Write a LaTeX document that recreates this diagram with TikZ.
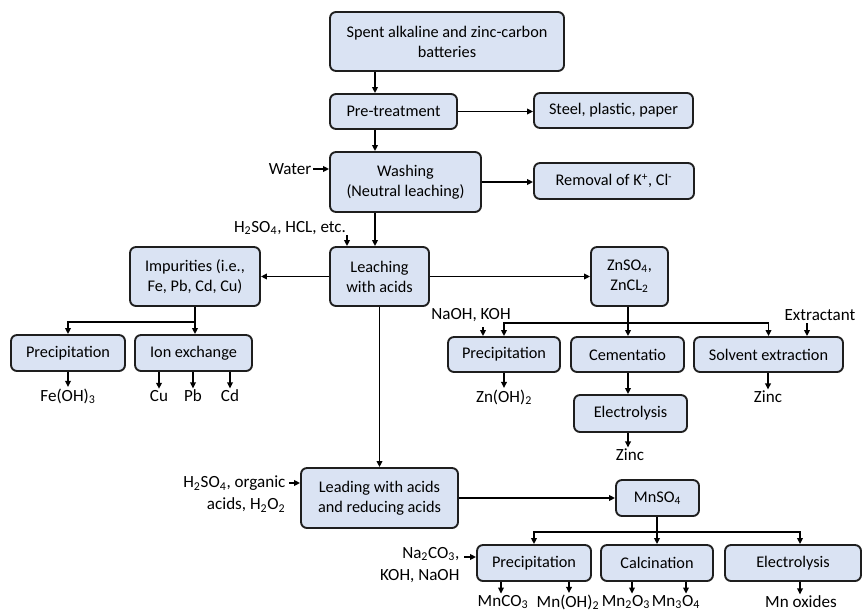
\documentclass[tikz,border=0pt]{standalone}
\usepackage{fontspec}
\setmainfont{Carlito}
\usetikzlibrary{arrows.meta,calc}
\definecolor{boxfill}{RGB}{218,227,243}
\definecolor{boxline}{RGB}{30,30,30}
\newcommand{\bx}[6]{\node[box, minimum width={(#4-#2)*0.75pt}, minimum height={(#5-#3)*0.75pt}] (#1) at ({(#2+#4)/2},{(#3+#5)/2}) {#6};}
\newcommand{\sub}[1]{\textsubscript{#1}}
\begin{document}
\begin{tikzpicture}[x=0.75pt,y=-0.75pt,
  box/.style={draw=boxline, fill=boxfill, line width=1.4pt, rounded corners=4.5pt, inner sep=0pt, align=center, font=\fontsize{12.2pt}{15pt}\selectfont},
  lbl/.style={inner sep=1pt, font=\fontsize{12.8pt}{16.5pt}\selectfont},
  arr/.style={line width=1.2pt, -{Triangle[length=4.5pt,width=4.2pt]}},
  ln/.style={line width=1.2pt}]
\useasboundingbox (0,0) rectangle (863,613);
\coordinate (vx) at (375,0);
% boxes
\bx{spent}{330}{12}{564}{71}{Spent alkaline and zinc-carbon\\batteries}
\bx{pre}{330}{94}{457}{129}{Pre-treatment}
\bx{steel}{534}{93}{693}{128}{Steel, plastic, paper}
\bx{wash}{330}{152}{481}{212}{Washing\\(Neutral leaching)}
\bx{removal}{534}{163}{694}{199}{Removal of K\textsuperscript{+}, Cl\textsuperscript{-}}
\bx{leach}{330}{247}{429}{306}{Leaching\\with acids}
\bx{imp}{130}{247}{260}{306}{Impurities (i.e.,\\Fe, Pb, Cd, Cu)}
\bx{znso}{591}{247}{668}{306}{ZnSO\sub{4},\\ZnCL\sub{2}}
\bx{precA}{11}{335}{125}{371}{Precipitation}
\bx{ion}{135}{335}{252}{371}{Ion exchange}
\bx{precB}{448}{337}{560}{372}{Precipitation}
\bx{cem}{571}{337}{684}{372}{Cementatio}
\bx{solv}{694}{337}{843}{372}{Solvent extraction}
\bx{elecA}{574}{395}{687}{432}{Electrolysis}
\bx{lead}{301}{468}{458}{528}{Leading with acids\\and reducing acids}
\bx{mnso}{616}{480}{699}{516}{MnSO\sub{4}}
\bx{precC}{477}{545}{591}{581}{Precipitation}
\bx{calc}{601}{545}{713}{581}{Calcination}
\bx{elecB}{725}{545}{861}{581}{Electrolysis}
% labels
\node[lbl, anchor=east] (water) at (313,169) {Water};
\node[lbl] (acidA) at (290,228) {H\sub{2}SO\sub{4}, HCL, etc.};
\node[lbl, align=right, anchor=east] (acidB) at (287,494) {H\sub{2}SO\sub{4}, organic\\acids, H\sub{2}O\sub{2}};
\node[lbl, align=right, anchor=east] (naco) at (461,565) {Na\sub{2}CO\sub{3},\\KOH, NaOH};
\node[lbl] (naoh) at (471,315) {NaOH, KOH};
\node[lbl] (extr) at (820,315) {Extractant};
\node[lbl] (feoh) at (68,396) {Fe(OH)\sub{3}};
\node[lbl] (cu) at (159,396) {Cu};
\node[lbl] (pb) at (193,396) {Pb};
\node[lbl] (cd) at (230,396) {Cd};
\node[lbl] (znoh) at (504,397) {Zn(OH)\sub{2}};
\node[lbl] (zincA) at (768,397) {Zinc};
\node[lbl] (zincB) at (630,455) {Zinc};
\node[lbl] (mnco) at (503,602) {MnCO\sub{3}};
\node[lbl] (mnoh) at (568,602) {Mn(OH)\sub{2}};
\node[lbl] (mnoa) at (626,602) {Mn\sub{2}O\sub{3}};
\node[lbl] (mnob) at (676,602) {Mn\sub{3}O\sub{4}};
\node[lbl] (mnox) at (801,602) {Mn oxides};
% main column
\draw[arr] (spent.south -| vx) -- (pre.north -| vx);
\draw[arr] (pre.east) -- (pre.east -| steel.west);
\draw[arr] (pre.south -| vx) -- (wash.north -| vx);
\draw[arr] (water.east) -- (water.east -| wash.west);
\draw[arr] (wash.east) -- (wash.east -| removal.west);
\draw[arr] (wash.south -| vx) -- (leach.north -| vx);
\coordinate (aA) at (347,235);
\draw[arr] (aA) -- (aA |- leach.north);
\draw[arr] (leach.west) -- (leach.west -| imp.east);
\draw[arr] (leach.east) -- (leach.east -| znso.west);
% impurities
\coordinate (jA) at (195,322);
\draw[ln] (imp.south) -- (jA);
\draw[arr] (jA) -| (precA.north);
\draw[arr] (jA) -- (jA |- ion.north);
\draw[arr] (precA.south -| feoh) -- (feoh.north);
\draw[arr] (ion.south -| cu) -- (cu.north);
\draw[arr] (ion.south -| pb) -- (pb.north);
\draw[arr] (ion.south -| cd) -- (cd.north);
% zinc branch
\coordinate (jB) at (628,323);
\draw[ln] (znso.south -| jB) -- (jB);
\draw[arr] (jB) -| (precB.north);
\draw[arr] (jB) -| (solv.north);
\draw[arr] (jB) -- (jB |- cem.north);
\coordinate (aN) at (483,327);
\draw[arr] (aN) -- (aN |- precB.north);
\coordinate (aE) at (807,323);
\draw[arr] (aE) -- (aE |- solv.north);
\draw[arr] (precB.south -| znoh) -- (znoh.north);
\draw[arr] (solv.south -| zincA) -- (zincA.north);
\draw[arr] (cem.south -| jB) -- (elecA.north -| jB);
\draw[arr] (elecA.south -| jB) -- (zincB.north -| jB);
% manganese branch
\draw[arr] (leach.south) -- (leach.south |- lead.north);
\coordinate (aB) at (289,483);
\draw[arr] (aB) -- (aB -| lead.west);
\draw[arr] (lead.east |- mnso.west) -- (mnso.west);
\coordinate (jC) at (657,532);
\coordinate (eB) at (800,0);
\draw[ln] (mnso.south -| jC) -- (jC);
\draw[arr] (jC) -| (precC.north);
\draw[arr] (jC) -| (eB |- elecB.north);
\draw[arr] (jC) -- (jC |- calc.north);
\coordinate (aC) at (464,557);
\draw[arr] (aC) -- (aC -| precC.west);
\coordinate (oA) at (501,0);
\coordinate (oB) at (569,0);
\coordinate (oC) at (632,0);
\coordinate (oD) at (686,0);
\draw[arr] (precC.south -| oA) -- (oA |- mnco.north);
\draw[arr] (precC.south -| oB) -- (oB |- mnoh.north);
\draw[arr] (calc.south -| oC) -- (oC |- mnoa.north);
\draw[arr] (calc.south -| oD) -- (oD |- mnob.north);
\draw[arr] (elecB.south -| eB) -- (eB |- mnox.north);
\end{tikzpicture}
\end{document}
